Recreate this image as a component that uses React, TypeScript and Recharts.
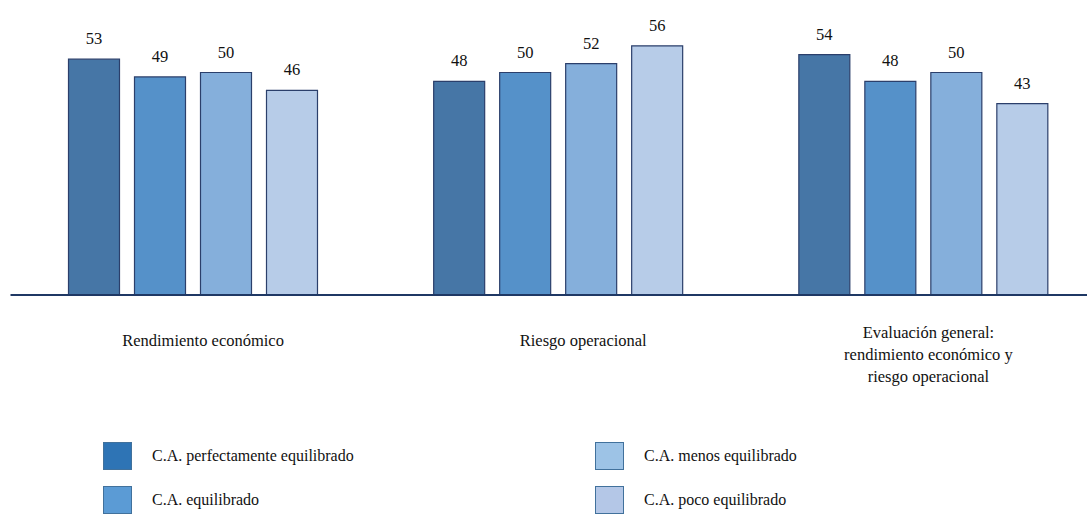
import React from 'react'
import { BarChart, Bar, XAxis, YAxis, LabelList } from 'recharts'

const categories = [
  'Rendimiento económico',
  'Riesgo operacional',
  'Evaluación general:\nrendimiento económico y\nriesgo operacional',
]

const perfectamente = [53, 48, 54]
const equilibrado = [49, 50, 48]
const menos = [50, 52, 50]
const poco = [46, 56, 43]

const seriesNames = [
  'C.A. perfectamente equilibrado',
  'C.A. equilibrado',
  'C.A. menos equilibrado',
  'C.A. poco equilibrado',
]

const barColors = ['#4676a6', '#5591c9', '#85afdb', '#b7cce8']
const legendColors = ['#2e74b5', '#5b9bd5', '#9dc3e6', '#b4c7e7']
const FONT = 'Liberation Serif, DejaVu Serif, serif'

const data = categories.map((name, i) => ({
  name,
  s0: perfectamente[i],
  s1: equilibrado[i],
  s2: menos[i],
  s3: poco[i],
}))

// small horizontal nudges so labels sit where they do in the original layout
const tickShift = [10, 25, 5]

const CategoryTick = (props: any) => {
  const { x, y, payload, index } = props
  const lines = String(payload.value).split('\n')
  const startY = lines.length > 1 ? y + 35 : y + 43
  const cx = x + (tickShift[index] ?? 0)
  return (
    <text x={cx} y={startY} textAnchor="middle" fill="#111" fontSize={16.5} fontFamily={FONT}>
      {lines.map((l, i) => (
        <tspan key={i} x={cx} dy={i === 0 ? 0 : 22}>
          {l}
        </tspan>
      ))}
    </text>
  )
}

const legendPos = [
  { left: 103, top: 442 },
  { left: 103, top: 486 },
  { left: 595, top: 442 },
  { left: 595, top: 486 },
]

export default function App() {
  return (
    <div
      style={{
        position: 'fixed',
        left: 0,
        top: 0,
        width: 1087,
        height: 514,
        overflow: 'hidden',
        background: '#fff',
      }}
    >
      <BarChart
        width={1106}
        height={514}
        data={data}
        margin={{ top: 28, right: 0, left: 10.5, bottom: 119 }}
        barSize={51}
        barGap={15}
      >
        <YAxis hide domain={[0, 60]} />
        <XAxis
          dataKey="name"
          height={100}
          axisLine={{ stroke: '#1f3864', strokeWidth: 2 }}
          tickLine={false}
          interval={0}
          tick={<CategoryTick />}
        />
        {['s0', 's1', 's2', 's3'].map((k, i) => (
          <Bar
            key={k}
            dataKey={k}
            name={seriesNames[i]}
            fill={barColors[i]}
            stroke="#2b3f6b"
            strokeWidth={1.2}
            isAnimationActive={false}
          >
            <LabelList
              dataKey={k}
              position="top"
              offset={15}
              fill="#111"
              fontSize={16.5}
              fontFamily={FONT}
            />
          </Bar>
        ))}
      </BarChart>
      {seriesNames.map((n, i) => (
        <div
          key={n}
          style={{
            position: 'absolute',
            left: legendPos[i].left,
            top: legendPos[i].top,
            display: 'flex',
            alignItems: 'center',
            fontFamily: FONT,
            fontSize: 16,
            color: '#111',
            whiteSpace: 'nowrap',
          }}
        >
          <span
            style={{
              display: 'inline-block',
              width: 27,
              height: 26,
              background: legendColors[i],
              border: '1px solid #41719c',
              marginRight: 20,
            }}
          />
          {n}
        </div>
      ))}
    </div>
  )
}
